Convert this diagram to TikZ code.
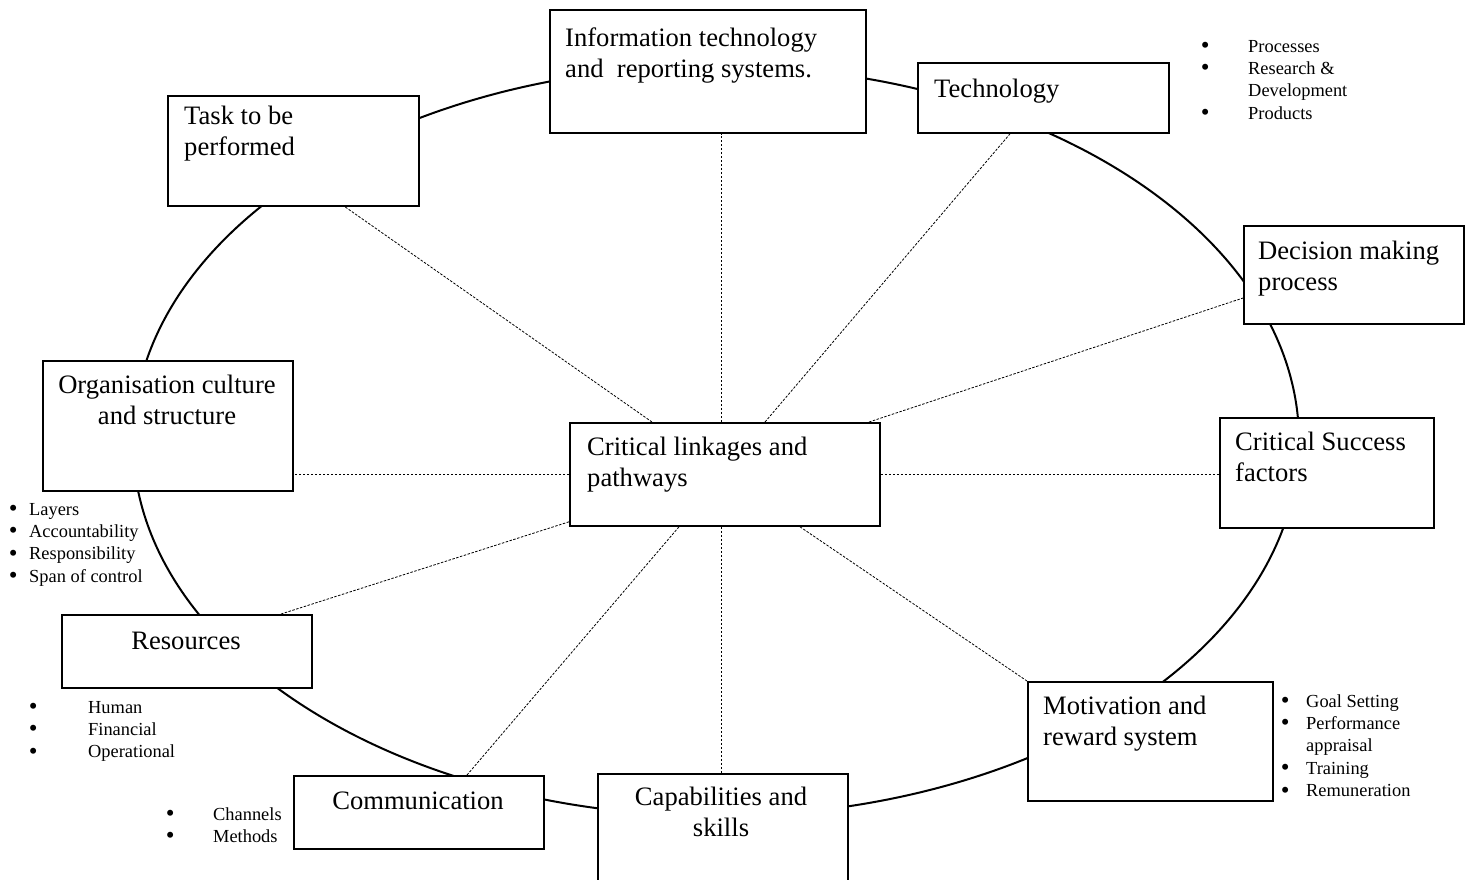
\documentclass[tikz,border=0pt]{standalone}
\usepackage{fontspec}
\setmainfont{Liberation Serif}
\usetikzlibrary{calc}

% labels and bullet lists are set as top-aligned tables, so that the
% node's base anchor sits on the first baseline
\newcommand\stack[2][l]{\begin{tabular}[t]{@{}#1@{}}#2\end{tabular}}
\newcommand\blist[2]{\begin{tabular}[t]{@{}l@{\hspace{#1}}l@{}}#2\end{tabular}}
\newcommand\bigtext{\fontsize{26.6}{31.5}\selectfont}
\newcommand\smalltext{\fontsize{18.4}{22.4}\selectfont}
% a heavier list bullet, kept to the width of an ordinary one
\newcommand\bul{\makebox[6pt][c]{\raisebox{-1.5pt}{\fontsize{25}{25}\selectfont\textbullet}}}

\begin{document}
\begin{tikzpicture}[x=1pt,y=-1pt,
  box/.style={draw, line width=1.8pt, fill=white, rectangle, inner sep=0pt, anchor=north west},
  link/.style={line width=0.8pt, dash pattern=on 2.5pt off 1.5pt},
  ring/.style={line width=2pt},
  lbl/.style={inner sep=0pt, font=\bigtext, anchor=base west},
  clbl/.style={inner sep=0pt, font=\bigtext, anchor=base},
  blt/.style={inner sep=0pt, font=\smalltext, anchor=base west}]

\useasboundingbox (0,0) rectangle (1471,879);
\clip (0,0) rectangle (1471,879);

% the ring that ties the factors together
\draw[ring] (716,441) ellipse [x radius=583pt, y radius=375pt];

% boxes
\node[box, minimum width=316pt, minimum height=123pt] (it)   at (549,9)   {};
\node[box, minimum width=251pt, minimum height=70pt]  (tech) at (917,62)  {};
\node[box, minimum width=251pt, minimum height=110pt] (task) at (167,95)  {};
\node[box, minimum width=220pt, minimum height=98pt]  (dec)  at (1243,225) {};
\node[box, minimum width=250pt, minimum height=130pt] (org)  at (42,360)  {};
\node[box, minimum width=310pt, minimum height=103pt] (crit) at (569,422) {};
\node[box, minimum width=214pt, minimum height=110pt] (csf)  at (1219,417) {};
\node[box, minimum width=250pt, minimum height=73pt]  (res)  at (61,614)  {};
\node[box, minimum width=245pt, minimum height=119pt] (mot)  at (1027,681) {};
\node[box, minimum width=250pt, minimum height=73pt]  (comm) at (293,775) {};
\node[box, minimum width=250pt, minimum height=130pt] (cap)  at (597,773) {};

% links from the hub to each factor
\draw[link] ([xshift=83pt]crit.north west)  -- ([xshift=178pt]task.south west);
\draw[link] ([xshift=152pt]crit.north west) -- ([xshift=172pt]it.south west);
\draw[link] ([xshift=196pt]crit.north west) -- ([xshift=93pt]tech.south west);
\draw[link] ([xshift=300pt]crit.north west) -- ([yshift=-73pt]dec.north west);
\draw[link] (crit.east) -- (crit.east -| csf.west);
\draw[link] ([xshift=231pt]crit.south west) -- (mot.north west);
\draw[link] ([xshift=152pt]crit.south west) -- ([xshift=124pt]cap.north west);
\draw[link] ([xshift=110pt]crit.south west) -- ([xshift=174pt]comm.north west);
\draw[link] ([yshift=5pt]crit.south west)   -- ([xshift=220pt]res.north west);
\draw[link] (crit.west) -- (crit.west -| org.east);

% box labels
\node[lbl]  (itl)   at (565,46)   {\stack{Information technology\\and\ \ reporting systems.}};
\node[lbl]  (techl) at (934,97)   {Technology};
\node[lbl]  (taskl) at (184,124)  {\stack{Task to be\\performed}};
\node[lbl]  (decl)  at (1258,259) {\stack{Decision making\\process}};
\node[clbl] (orgl)  at (167,393)  {\stack[c]{Organisation culture\\and structure}};
\node[lbl]  (critl) at (587,455)  {\stack{Critical linkages and\\pathways}};
\node[lbl]  (csfl)  at (1235,450) {\stack{Critical Success\\factors}};
\node[clbl] (resl)  at (186,649)  {Resources};
\node[lbl]  (motl)  at (1043,714) {\stack{Motivation and\\reward system}};
\node[clbl] (comml) at (418,809)  {Communication};
\node[clbl] (capl)  at (721,805)  {\stack[c]{Capabilities and\\skills}};

% bullet lists
\node[blt] (techb) at (1202,52) {\blist{40pt}{\bul & Processes\\ \bul & Research \&\\ & Development\\ \bul & Products}};
\node[blt] (orgb)  at (10,515)  {\blist{13pt}{\bul & Layers\\ \bul & Accountability\\ \bul & Responsibility\\ \bul & Span of control}};
\node[blt] (resb)  at (30,713)  {\blist{52pt}{\bul & Human\\ \bul & Financial\\ \bul & Operational}};
\node[blt] (commb) at (167,820) {\blist{40pt}{\bul & Channels\\ \bul & Methods}};
\node[blt] (motb)  at (1282,707) {\blist{18pt}{\bul & Goal Setting\\ \bul & Performance\\ & appraisal\\ \bul & Training\\ \bul & Remuneration}};

\end{tikzpicture}
\end{document}
